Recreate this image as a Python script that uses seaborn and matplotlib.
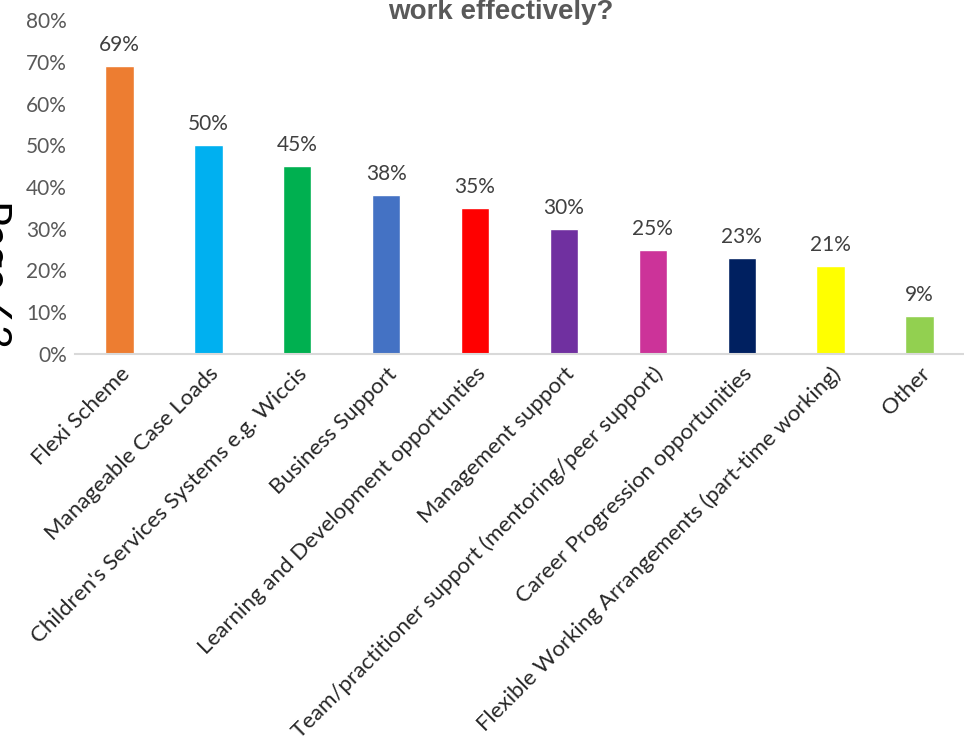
import matplotlib
matplotlib.use("Agg")
import matplotlib.pyplot as plt
import seaborn as sns
import pandas as pd

categories = [
    "Flexi Scheme",
    "Manageable Case Loads",
    "Children's Services Systems e.g. Wiccis",
    "Business Support",
    "Learning and Development opportunties",
    "Management support",
    "Team/practitioner support (mentoring/peer support)",
    "Career Progression opportunities",
    "Flexible Working Arrangements (part-time working)",
    "Other",
]
values = [69, 50, 45, 38, 35, 30, 25, 23, 21, 9]
colors = ["#ED7D31", "#00B0F0", "#00B050", "#4472C4", "#FF0000",
          "#7030A0", "#CC3399", "#002060", "#FFFF00", "#92D050"]
yticks = [0, 10, 20, 30, 40, 50, 60, 70, 80]

sns.set_theme(style="white")
plt.rcParams["font.family"] = ["Lato", "DejaVu Sans"]

df = pd.DataFrame({"cat": categories, "val": values})

fig = plt.figure(figsize=(9.64, 7.52), dpi=100)
ax = fig.add_axes([75 / 964, 1 - 354 / 752, 1 - 75 / 964, (354 - 20) / 752])

sns.barplot(data=df, x="cat", y="val", hue="cat", palette=colors,
            legend=False, width=0.32, ax=ax, saturation=1)

ax.set_ylim(0, 80)
ax.set_xlim(-0.5, len(categories) - 0.5)
ax.set_yticks(yticks)
ax.set_yticklabels([f"{t}%" for t in yticks], fontsize=15, color="#595959")
ax.set_xlabel("")
ax.set_ylabel("")
ax.tick_params(axis="y", length=0, pad=6)
ax.tick_params(axis="x", length=0, pad=7)
ax.set_xticks(range(len(categories)))
ax.set_xticklabels(categories, rotation=45, ha="right", rotation_mode="anchor",
                   fontsize=16, color="#262626")

for s in ["top", "right", "left"]:
    ax.spines[s].set_visible(False)
ax.spines["bottom"].set_color("#D9D9D9")
ax.spines["bottom"].set_linewidth(1.5)

for i, v in enumerate(values):
    ax.annotate(f"{v}%", (i, v), xytext=(0, 8), textcoords="offset points",
                ha="center", va="bottom", fontsize=15, color="#404040")

fig.text(501 / 964, 1 - 19 / 752, "work effectively?", ha="center", va="baseline",
         fontsize=20, fontweight="bold", color="#595959",
         family=["Liberation Sans", "DejaVu Sans"])

fig.text(-8 / 964, 1 - 274 / 752, "Page 63", rotation=-90, ha="center", va="center",
         fontsize=30, color="black")

fig.savefig("out.png", dpi=100)
